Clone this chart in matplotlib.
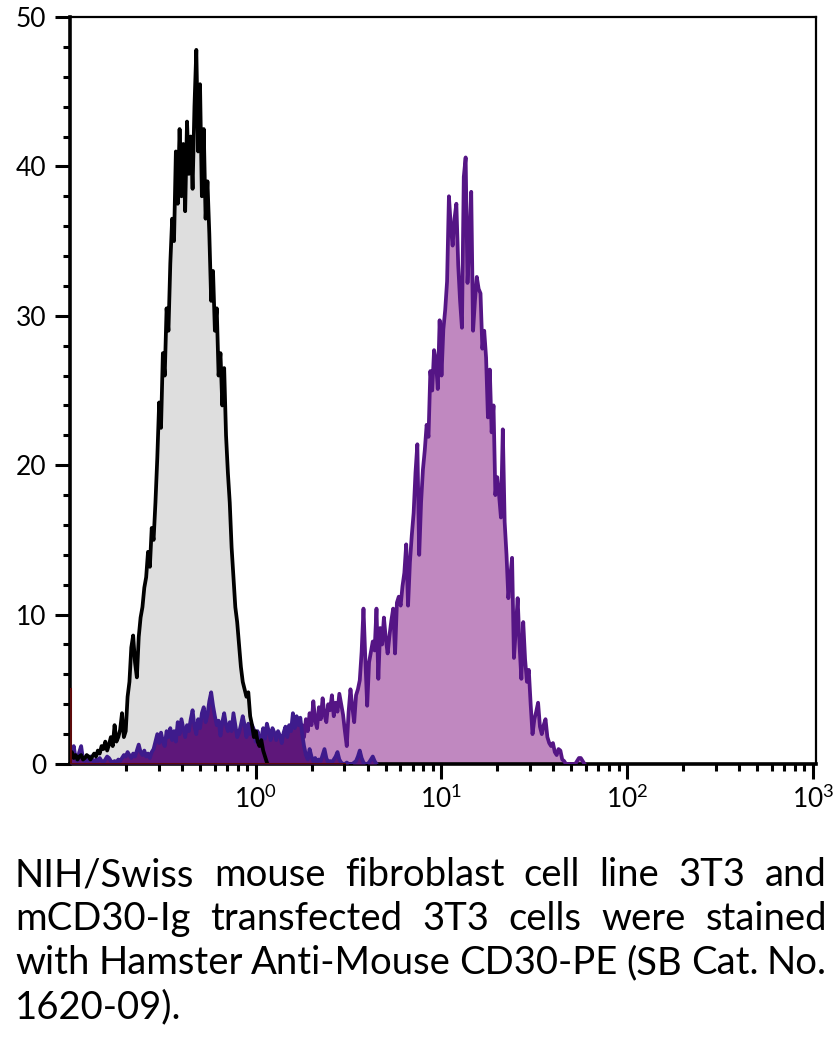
import numpy as np
import matplotlib
matplotlib.use("Agg")
import matplotlib.pyplot as plt
from matplotlib.ticker import FixedLocator, LogLocator, NullFormatter

FONT = "Lato"
plt.rcParams["font.family"] = [FONT, "DejaVu Sans"]
plt.rcParams["mathtext.fontset"] = "custom"
plt.rcParams["mathtext.rm"] = FONT
plt.rcParams["mathtext.it"] = FONT
plt.rcParams["mathtext.bf"] = FONT

# ---------------- data ----------------
# histogram channels: log10 spacing of 0.01 decade per channel
STEP = 0.01

# 3T3 parental cells (grey, black outline), starts at log10 = -1.00
grey_start = -1.00
grey_counts = [
    0.5, 0.8, 0.4, 0.6, 0.3, 0.5, 0.6, 0.3, 0.4, 0.6,
    0.5, 0.3, 0.5, 0.7, 0.5, 0.9, 0.7, 1.2, 1.0, 1.5,
    0.9, 1.3, 1.8, 1.2, 2.6, 1.5, 1.8, 2.3, 3.4, 1.8,
    2.2, 4.5, 5.5, 7.8, 8.6, 6.8, 5.8, 8.5, 9.8, 10.5,
    11.8, 12.5, 14.2, 13.2, 15.8, 15.0, 17.5, 20.5, 24.2, 22.5,
    27.5, 26.0, 30.5, 29.0, 33.5, 36.5, 35.0, 41.0, 37.5, 42.5,
    38.0, 41.5, 37.0, 43.0, 39.5, 42.0, 38.5, 44.0, 47.8, 41.0,
    45.5, 38.0, 42.5, 36.5, 39.0, 35.5, 31.0, 33.0, 29.0, 30.5,
    26.0, 27.5, 24.0, 26.5, 22.0, 19.5, 17.5, 14.5, 12.5, 10.5,
    9.5, 8.0, 6.5, 5.5, 5.0, 4.5, 4.8, 3.2, 2.6, 1.8,
    2.2, 1.5, 1.2, 1.6, 0.9, 0.5, 0.1,
]

# mCD30-Ig transfected 3T3 cells (purple), starts at log10 = 0.20
purple_start = 0.20
purple_counts = [
    0.8, 1.5, 1.0, 2.0, 1.4, 2.6, 1.8, 3.0, 2.2, 3.4,
    2.6, 4.2, 2.9, 2.4, 3.8, 3.0, 4.4, 3.3, 2.8, 4.0,
    3.6, 4.6, 3.2, 4.1, 3.5, 4.7, 4.0, 3.3, 2.2, 1.2,
    3.5, 5.0, 3.8, 2.8, 4.6, 5.0, 5.6, 7.5, 10.4, 7.0,
    3.9, 6.8, 7.5, 8.2, 7.6, 10.4, 5.7, 9.1, 8.0, 9.8,
    8.4, 7.4, 8.6, 9.6, 10.4, 7.4, 10.8, 11.2, 10.6, 11.9,
    12.8, 14.7, 10.6, 13.5, 15.3, 16.8, 19.5, 21.4, 14.0, 17.5,
    19.7, 21.0, 22.7, 21.9, 26.3, 25.0, 27.7, 27.0, 25.1, 29.7,
    26.0, 29.1, 30.4, 32.3, 38.0, 36.0, 34.7, 36.5, 37.5, 33.4,
    31.0, 29.2, 39.3, 40.6, 32.2, 35.0, 38.3, 29.0, 31.0, 32.6,
    31.8, 31.5, 27.8, 29.0, 27.2, 23.2, 26.4, 22.2, 24.0, 18.0,
    19.2, 18.0, 16.5, 22.4, 16.2, 14.0, 11.1, 12.5, 13.8, 7.1,
    9.0, 11.1, 8.0, 5.7, 9.5, 7.0, 5.5, 6.3, 4.0, 2.0,
    3.0, 3.5, 4.1, 2.5, 2.0, 2.6, 3.0, 1.8, 1.4, 1.2,
    1.4, 0.8, 0.6, 1.0, 0.9, 0.3, 0.2, 0.0, 0.0, 0.0,
    0.0, 0.0, 0.0, 0.2, 0.4, 0.4, 0.2, 0.0,
]

# low-level dark population, starts at log10 = -1.00
dark_start = -1.00
dark_counts = [
    1.0, 0.6, 1.2, 0.4, 0.2, 0.8, 1.2, 0.3, 0.2, 0.4,
    0.2, 0.5, 0.3, 0.1, 0.3, 0.2, 0.4, 0.2, 0.1, 0.3,
    0.5, 0.4, 0.2, 0.1, 0.2, 0.1, 0.3, 0.2, 0.4, 0.6,
    0.5, 0.8, 0.6, 0.4, 0.7, 0.5, 0.9, 1.3, 0.8, 0.6,
    0.9, 0.5, 0.7, 0.4, 0.8, 1.0, 1.5, 2.0, 1.4, 2.1,
    1.5, 1.2, 2.2, 1.8, 2.4, 1.6, 2.2, 1.5, 2.8, 2.0,
    3.0, 2.4, 1.8, 2.6, 2.2, 3.0, 3.6, 2.5, 2.0, 3.0,
    2.4, 3.4, 3.8, 2.8, 3.3, 4.2, 4.8, 3.9, 3.2, 2.6,
    2.9, 1.9, 2.8, 3.4, 2.6, 2.2, 2.8, 2.2, 3.4, 2.6,
    1.8, 2.1, 2.6, 3.2, 2.6, 1.8, 2.7, 2.0, 2.6, 2.3,
    1.5, 2.2, 1.4, 1.8, 2.4, 1.7, 2.7, 2.2, 1.6, 2.4,
    2.1, 1.6, 2.2, 1.9, 1.4, 2.1, 2.5, 1.8, 2.6, 2.2,
    3.4, 2.4, 3.2, 2.6, 3.1, 2.0, 1.2, 0.6, 0.3, 1.0,
    0.5, 0.2, 0.4, 0.1, 0.3, 0.2, 0.6, 1.0, 0.4, 0.1,
    0.2, 0.1, 0.3, 0.5, 0.8, 0.3, 0.1, 0.0, 0.0, 0.1,
    0.0, 0.0, 0.0, 0.1, 0.2, 0.5, 0.9, 0.4, 0.1, 0.0,
    0.0, 0.1, 0.3, 0.5, 0.2, 0.0,
]

# off-scale (first channel) events, dark red trace
offscale_x = [0.1, 3.0]
offscale_y = [5.0, 0.0]

x_major = [1, 10, 100, 1000]
x_labels = [r"$\mathregular{10^{0}}$", r"$\mathregular{10^{1}}$",
            r"$\mathregular{10^{2}}$", r"$\mathregular{10^{3}}$"]
y_major = [0, 10, 20, 30, 40, 50]

caption_lines = [
    "NIH/Swiss mouse fibroblast cell line 3T3 and",
    "mCD30-Ig transfected 3T3 cells were stained",
    "with Hamster Anti-Mouse CD30-PE (SB Cat. No.",
    "1620-09).",
]

# ---------------- figure ----------------
W, H = 840, 1064
fig = plt.figure(figsize=(W / 100, H / 100), dpi=100)
ax = fig.add_axes([70 / W, 1 - 764 / H, 746 / W, 747 / H])


def chan(start, counts):
    return 10 ** (start + STEP * np.arange(len(counts)))


gx = chan(grey_start, grey_counts)
px = chan(purple_start, purple_counts)
dx = chan(dark_start, dark_counts)

LW = 2.7
ax.fill_between(gx, 0, grey_counts, color="#DEDEDE", lw=0, zorder=1)
ax.fill_between(px, 0, purple_counts, color="#C088C0", lw=0, zorder=2)
ax.plot(px, purple_counts, color="#551585", lw=LW, zorder=3)
ax.fill_between(dx, 0, dark_counts, color="#5E177A", lw=0, zorder=4)
ax.plot(dx, dark_counts, color="#3E1B8C", lw=LW, zorder=5)
ax.plot(gx, grey_counts, color="black", lw=LW, zorder=6)
ax.plot(offscale_x, offscale_y, color="#5C0A0A", lw=2.2, zorder=7,
        drawstyle="steps-pre")

ax.set_xscale("log")
ax.set_xlim(0.1, 1038)
ax.set_ylim(0, 50)

ax.xaxis.set_major_locator(FixedLocator(x_major))
ax.set_xticklabels(x_labels)
ax.xaxis.set_minor_locator(LogLocator(base=10, subs=np.arange(2, 10)))
ax.xaxis.set_minor_formatter(NullFormatter())
ax.yaxis.set_major_locator(FixedLocator(y_major))
ax.yaxis.set_minor_locator(FixedLocator(
    [v for v in np.arange(0, 50.1, 2) if v % 10 != 0]))

for side in ("left", "bottom"):
    ax.spines[side].set_linewidth(2.6)
for side in ("top", "right"):
    ax.spines[side].set_linewidth(1.6)

ax.tick_params(which="major", direction="out", length=11, width=2.2,
               labelsize=19, pad=4)
ax.tick_params(which="minor", direction="out", length=5, width=2.2)
ax.tick_params(axis="y", which="major", pad=6)

# ---------------- justified caption ----------------
fig.canvas.draw()
renderer = fig.canvas.get_renderer()
x0, x1 = 15 / W, 827 / W
baselines = [886, 930, 974, 1018]
fs = 27.5
for i, line in enumerate(caption_lines):
    y = 1 - baselines[i] / H
    words = line.split()
    texts = [fig.text(0, y, w, fontsize=fs, va="baseline", ha="left")
             for w in words]
    widths = [t.get_window_extent(renderer).width / fig.bbox.width
              for t in texts]
    if i < len(caption_lines) - 1 and len(words) > 1:
        gap = (x1 - x0 - sum(widths)) / (len(words) - 1)
    else:
        sp = fig.text(0, 0, "a a", fontsize=fs)
        sa = fig.text(0, 0, "aa", fontsize=fs)
        gap = (sp.get_window_extent(renderer).width
               - sa.get_window_extent(renderer).width) / fig.bbox.width
        sp.remove()
        sa.remove()
    x = x0
    for t, w in zip(texts, widths):
        t.set_x(x)
        x += w + gap

fig.savefig("out.png", dpi=100)
